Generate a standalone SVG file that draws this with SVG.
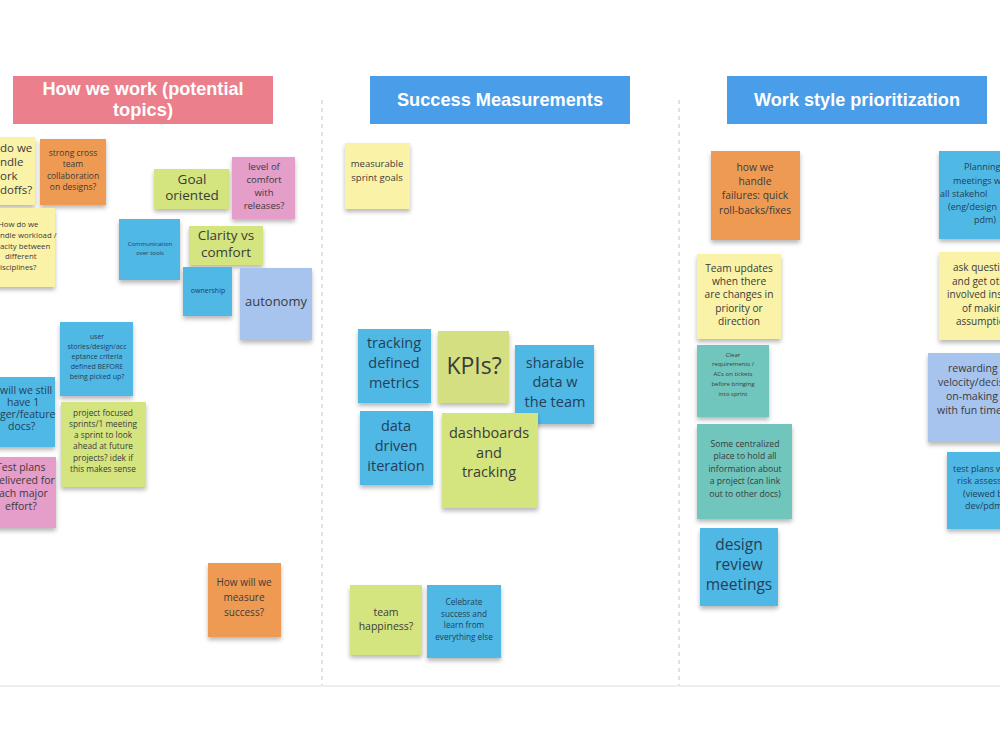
<svg xmlns="http://www.w3.org/2000/svg" width="1000" height="750" viewBox="0 0 1000 750">
<defs>
<filter id="sh" x="-10%" y="-10%" width="120%" height="130%">
<feDropShadow dx="0" dy="3" stdDeviation="2" flood-color="#000" flood-opacity="0.28"/>
</filter>
<style>
.n{filter:url(#sh)}
.y{fill:#f9f2a7}.o{fill:#ef9a52}.g{fill:#d4e47e}.p{fill:#e59dca}.b{fill:#4fb8e4}.lb{fill:#a7c4ef}.t{fill:#6fc5bc}.k{fill:#d3df80}
text{font-family:"Open Sans","Noto Sans",sans-serif;fill:#3b3b3b;text-anchor:middle}
.tb{fill:#24405a}
.s{text-anchor:start}
.h{font-family:"Liberation Sans",Arial,sans-serif;font-weight:bold;fill:#fff;font-size:19px}
.sep{stroke:#c4c4c4;stroke-width:1;stroke-dasharray:4 4;fill:none}
</style>
</defs>
<rect width="1000" height="750" fill="#fff"/>
<g id="connectors">
<line class="sep" x1="322" y1="100" x2="322" y2="686"/>
<line class="sep" x1="679" y1="100" x2="679" y2="686"/>
<line x1="0" y1="686" x2="1000" y2="686" stroke="#e8e8e8" stroke-width="1.5"/>
</g>
<g id="hdr-work">
<rect x="13" y="76" width="260" height="48" fill="#ec7f8c"/>
<text class="h" x="143" y="95" textLength="201" lengthAdjust="spacingAndGlyphs">How we work (potential</text>
<text class="h" x="143" y="116" textLength="60" lengthAdjust="spacingAndGlyphs">topics)</text>
</g>
<g id="hdr-success">
<rect x="370" y="76" width="260" height="48" fill="#4a9de8"/>
<text class="h" x="500" y="106" textLength="206" lengthAdjust="spacingAndGlyphs">Success Measurements</text>
</g>
<g id="hdr-style">
<rect x="727" y="76" width="260" height="48" fill="#4a9de8"/>
<text class="h" x="857" y="106" textLength="206" lengthAdjust="spacingAndGlyphs">Work style prioritization</text>
</g>

<g id="n-handoffs">
<rect class="n y" x="-5" y="137" width="40" height="68"/>
<text class="s" font-size="11.5"><tspan x="0" y="152">do we</tspan><tspan x="0" y="166">ndle</tspan><tspan x="0" y="180">ork</tspan><tspan x="0" y="194">doffs?</tspan></text>
</g>
<g id="n-crossteam">
<rect class="n o" x="40" y="139" width="66" height="66"/>
<text font-size="8.5"><tspan x="73" y="156">strong cross</tspan><tspan x="73" y="167">team</tspan><tspan x="73" y="179">collaboration</tspan><tspan x="73" y="190">on designs?</tspan></text>
</g>
<g id="n-capacity">
<rect class="n y" x="-5" y="208" width="60" height="79"/>
<text class="s" font-size="7.8"><tspan x="-2" y="227">How do we</tspan><tspan x="0" y="238">ndle workload /</tspan><tspan x="0" y="249">acity between</tspan><tspan x="5" y="259">different</tspan><tspan x="0" y="270">isciplines?</tspan></text>
</g>
<g id="n-communication">
<rect class="n b" x="119" y="219" width="61" height="61"/>
<text class="tb" font-size="6"><tspan x="150" y="246">Communication</tspan><tspan x="150" y="255">over tools</tspan></text>
</g>
<g id="n-goal">
<rect class="n g" x="154" y="169" width="75" height="40"/>
<text font-size="13.5"><tspan x="192" y="184">Goal</tspan><tspan x="192" y="200">oriented</tspan></text>
</g>
<g id="n-comfort">
<rect class="n p" x="232" y="157" width="63" height="62"/>
<text font-size="9.5"><tspan x="264" y="170">level of</tspan><tspan x="264" y="183">comfort</tspan><tspan x="264" y="196">with</tspan><tspan x="264" y="209">releases?</tspan></text>
</g>
<g id="n-clarity">
<rect class="n g" x="189" y="226" width="74" height="39"/>
<text font-size="13.5"><tspan x="226" y="240">Clarity vs</tspan><tspan x="226" y="257">comfort</tspan></text>
</g>
<g id="n-ownership">
<rect class="n b" x="183" y="267" width="49" height="49"/>
<text class="tb" font-size="7"><tspan x="208" y="293">ownership</tspan></text>
</g>
<g id="n-autonomy">
<rect class="n lb" x="240" y="268" width="72" height="72"/>
<text font-size="13"><tspan x="276" y="306">autonomy</tspan></text>
</g>
<g id="n-userstories">
<rect class="n b" x="60" y="322" width="73" height="74"/>
<text class="tb" font-size="7"><tspan x="97" y="339">user</tspan><tspan x="97" y="349">stories/design/acc</tspan><tspan x="97" y="359">eptance criteria</tspan><tspan x="97" y="369">defined BEFORE</tspan><tspan x="97" y="379">being picked up?</tspan></text>
</g>
<g id="n-docs">
<rect class="n b" x="-5" y="377" width="60" height="70"/>
<text class="tb s" font-size="10.5"><tspan x="0" y="394">will we still</tspan><tspan x="7" y="406">have 1</tspan><tspan x="0" y="418">ger/feature</tspan><tspan x="8" y="430">docs?</tspan></text>
</g>
<g id="n-project">
<rect class="n g" x="61" y="402" width="85" height="85"/>
<text font-size="8.3"><tspan x="103" y="416">project focused</tspan><tspan x="103" y="427">sprints/1 meeting</tspan><tspan x="103" y="438">a sprint to look</tspan><tspan x="103" y="449">ahead at future</tspan><tspan x="103" y="461">projects? idek if</tspan><tspan x="103" y="472">this makes sense</tspan></text>
</g>
<g id="n-testplans">
<rect class="n p" x="-5" y="457" width="61" height="71"/>
<text class="s" font-size="10.5"><tspan x="-4" y="471">Test plans</tspan><tspan x="-1" y="484">elivered for</tspan><tspan x="-1" y="497">ach major</tspan><tspan x="5" y="510">effort?</tspan></text>
</g>
<g id="n-measure">
<rect class="n o" x="208" y="563" width="73" height="74"/>
<text font-size="10"><tspan x="244" y="586">How will we</tspan><tspan x="244" y="601">measure</tspan><tspan x="244" y="616">success?</tspan></text>
</g>

<g id="n-sprintgoals">
<rect class="n y" x="345" y="143" width="65" height="66"/>
<text font-size="9.5"><tspan x="377" y="167">measurable</tspan><tspan x="377" y="181">sprint goals</tspan></text>
</g>
<g id="n-tracking">
<rect class="n b" x="358" y="329" width="73" height="74"/>
<text class="tb" font-size="14.5"><tspan x="394" y="348">tracking</tspan><tspan x="394" y="368">defined</tspan><tspan x="394" y="388">metrics</tspan></text>
</g>
<g id="n-kpis">
<rect class="n k" x="438" y="331" width="71" height="72"/>
<text font-size="23"><tspan x="474" y="374">KPIs?</tspan></text>
</g>
<g id="n-sharable">
<rect class="n b" x="515" y="345" width="79" height="79"/>
<text class="tb" font-size="14.5"><tspan x="555" y="368">sharable</tspan><tspan x="555" y="387">data w</tspan><tspan x="555" y="407">the team</tspan></text>
</g>
<g id="n-datadriven">
<rect class="n b" x="360" y="411" width="73" height="74"/>
<text class="tb" font-size="14.5"><tspan x="396" y="431">data</tspan><tspan x="396" y="451">driven</tspan><tspan x="396" y="471">iteration</tspan></text>
</g>
<g id="n-dashboards">
<rect class="n g" x="442" y="413" width="96" height="95"/>
<text font-size="14.5"><tspan x="489" y="438">dashboards</tspan><tspan x="489" y="458">and</tspan><tspan x="489" y="477">tracking</tspan></text>
</g>
<g id="n-happiness">
<rect class="n g" x="350" y="585" width="72" height="70"/>
<text font-size="10.5"><tspan x="386" y="616">team</tspan><tspan x="386" y="630">happiness?</tspan></text>
</g>
<g id="n-celebrate">
<rect class="n b" x="427" y="585" width="74" height="73"/>
<text class="tb" font-size="8.2"><tspan x="464" y="605">Celebrate</tspan><tspan x="464" y="617">success and</tspan><tspan x="464" y="628">learn from</tspan><tspan x="464" y="640">everything else</tspan></text>
</g>

<g id="n-failures">
<rect class="n o" x="711" y="151" width="89" height="89"/>
<text font-size="10.3"><tspan x="755" y="171">how we</tspan><tspan x="755" y="185">handle</tspan><tspan x="755" y="199">failures: quick</tspan><tspan x="755" y="214">roll-backs/fixes</tspan></text>
</g>
<g id="n-teamupdates">
<rect class="n y" x="697" y="254" width="84" height="85"/>
<text font-size="10.2"><tspan x="739" y="272">Team updates</tspan><tspan x="739" y="285">when there</tspan><tspan x="739" y="298">are changes in</tspan><tspan x="739" y="312">priority or</tspan><tspan x="739" y="325">direction</tspan></text>
</g>
<g id="n-clearreq">
<rect class="n t" x="697" y="345" width="72" height="72"/>
<text font-size="6"><tspan x="733" y="357">Clear</tspan><tspan x="733" y="366">requirements /</tspan><tspan x="733" y="376">ACs on tickets</tspan><tspan x="733" y="386">before bringing</tspan><tspan x="733" y="396">into sprint</tspan></text>
</g>
<g id="n-centralized">
<rect class="n t" x="697" y="424" width="95" height="95"/>
<text font-size="8.6"><tspan x="745" y="447">Some centralized</tspan><tspan x="745" y="459">place to hold all</tspan><tspan x="745" y="472">information about</tspan><tspan x="745" y="484">a project (can link</tspan><tspan x="745" y="497">out to other docs)</tspan></text>
</g>
<g id="n-designreview">
<rect class="n b" x="700" y="528" width="78" height="78"/>
<text class="tb" font-size="15.5"><tspan x="739" y="550">design</tspan><tspan x="739" y="570">review</tspan><tspan x="739" y="590">meetings</tspan></text>
</g>
<g id="n-planning">
<rect class="n b" x="939" y="151" width="70" height="88"/>
<text class="tb s" font-size="9"><tspan x="964" y="170">Planning</tspan><tspan x="953" y="184">meetings w</tspan><tspan x="940" y="197">all stakehol</tspan><tspan x="948" y="210">(eng/design</tspan><tspan x="974" y="223">pdm)</tspan></text>
</g>
<g id="n-askquestions">
<rect class="n y" x="939" y="252" width="70" height="88"/>
<text class="s" font-size="10"><tspan x="953" y="271">ask questio</tspan><tspan x="952" y="285">and get oth</tspan><tspan x="947" y="298">involved inst</tspan><tspan x="962" y="312">of makin</tspan><tspan x="956" y="325">assumptio</tspan></text>
</g>
<g id="n-rewarding">
<rect class="n lb" x="928" y="353" width="80" height="89"/>
<text class="s" font-size="10.5"><tspan x="948" y="372">rewarding</tspan><tspan x="938" y="386">velocity/decis</tspan><tspan x="946" y="400">on-making</tspan><tspan x="937" y="414">with fun time</tspan></text>
</g>
<g id="n-testrisk">
<rect class="n b" x="947" y="452" width="60" height="77"/>
<text class="tb s" font-size="9"><tspan x="953" y="472">test plans w</tspan><tspan x="957" y="484">risk assess</tspan><tspan x="963" y="497">(viewed b</tspan><tspan x="965" y="509">dev/pdm</tspan></text>
</g>
</svg>
